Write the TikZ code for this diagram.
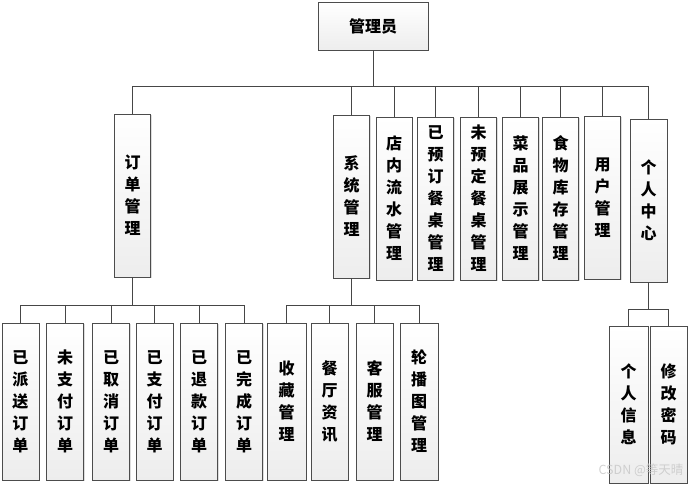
\documentclass[tikz,border=0pt]{standalone}
\usepackage{fontspec}
\newfontfamily\cjk{Noto Sans CJK SC}
\usetikzlibrary{shadows}
\tikzset{
    func-box/.style = {draw=gray!60!black, top color=white, bottom color=gray!14, thin, rectangle, inner sep=0pt,
        align=center, font=\cjk\bfseries\fontsize{16}{22}\selectfont,
        drop shadow={shadow xshift=1.2pt, shadow yshift=-1.2pt, fill=gray!45, opacity=0.6}},
    mid-box/.style = {func-box, minimum width=36pt, minimum height=163pt},
    leaf-box/.style = {func-box, minimum width=37pt, minimum height=157pt},
    tree-line/.style = {draw=gray!55!black, line width=0.8pt},
}

\begin{document}
\begin{tikzpicture}[x=1pt, y=1pt]
\useasboundingbox (0,0) rectangle (693,-487);
% root
\node [func-box, minimum width=110pt, minimum height=48pt] (admin) at (373,-26) {管理员};
% second level
\node [mid-box] (order) at (132.5,-195.5) {订\\单\\管\\理};
\node [mid-box] (sys) at (351.5,-196.5) {系\\统\\管\\理};
\node [mid-box] (flow) at (394,-198.5) {店\\内\\流\\水\\管\\理};
\node [mid-box] (booked) at (435.5,-198.5) {已\\预\\订\\餐\\桌\\管\\理};
\node [mid-box] (unbooked) at (478.5,-198.5) {未\\预\\定\\餐\\桌\\管\\理};
\node [mid-box] (dish) at (520.5,-198.5) {菜\\品\\展\\示\\管\\理};
\node [mid-box] (stock) at (560.5,-198.5) {食\\物\\库\\存\\管\\理};
\node [mid-box] (user) at (602.5,-197.5) {用\\户\\管\\理};
\node [mid-box, minimum width=37pt] (center) at (648.5,-200.5) {个\\人\\中\\心};
% order children
\node [leaf-box] (sent) at (20.5,-401.5) {已\\派\\送\\订\\单};
\node [leaf-box] (unpaid) at (65,-401.5) {未\\支\\付\\订\\单};
\node [leaf-box] (cancel) at (111,-401.5) {已\\取\\消\\订\\单};
\node [leaf-box] (paid) at (154.5,-401.5) {已\\支\\付\\订\\单};
\node [leaf-box] (refund) at (199,-401.5) {已\\退\\款\\订\\单};
\node [leaf-box] (done) at (244,-401.5) {已\\完\\成\\订\\单};
% system children
\node [leaf-box, minimum width=39pt] (fav) at (286.5,-401.5) {收\\藏\\管\\理};
\node [leaf-box] (news) at (329.5,-401.5) {餐\\厅\\资\\讯};
\node [leaf-box] (service) at (374.5,-401.5) {客\\服\\管\\理};
\node [leaf-box, minimum width=38pt] (banner) at (419,-401.5) {轮\\播\\图\\管\\理};
% personal children
\node [leaf-box, minimum width=39pt] (info) at (628.5,-404.5) {个\\人\\信\\息};
\node [leaf-box] (passwd) at (668.5,-404.5) {修\\改\\密\\码};

\foreach \c in {order, sys, flow, booked, unbooked, dish, stock, user, center}
    \draw [tree-line] (admin.south) -- +(0,-36) -| (\c.north);
\foreach \c in {sent, unpaid, cancel, paid, refund, done}
    \draw [tree-line] (order.south) -- +(0,-28) -| (\c.north);
\foreach \c in {fav, news, service, banner}
    \draw [tree-line] (sys.south) -- +(0,-27) -| (\c.north);
\foreach \c in {info, passwd}
    \draw [tree-line] (center.south) -- +(0,-27) -| (\c.north);

\node [font=\cjk\fontsize{12.5}{14}\selectfont, text=gray!45, opacity=0.8] (mark) at (641,-470) {CSDN @等天晴};
\end{tikzpicture}
\end{document}
